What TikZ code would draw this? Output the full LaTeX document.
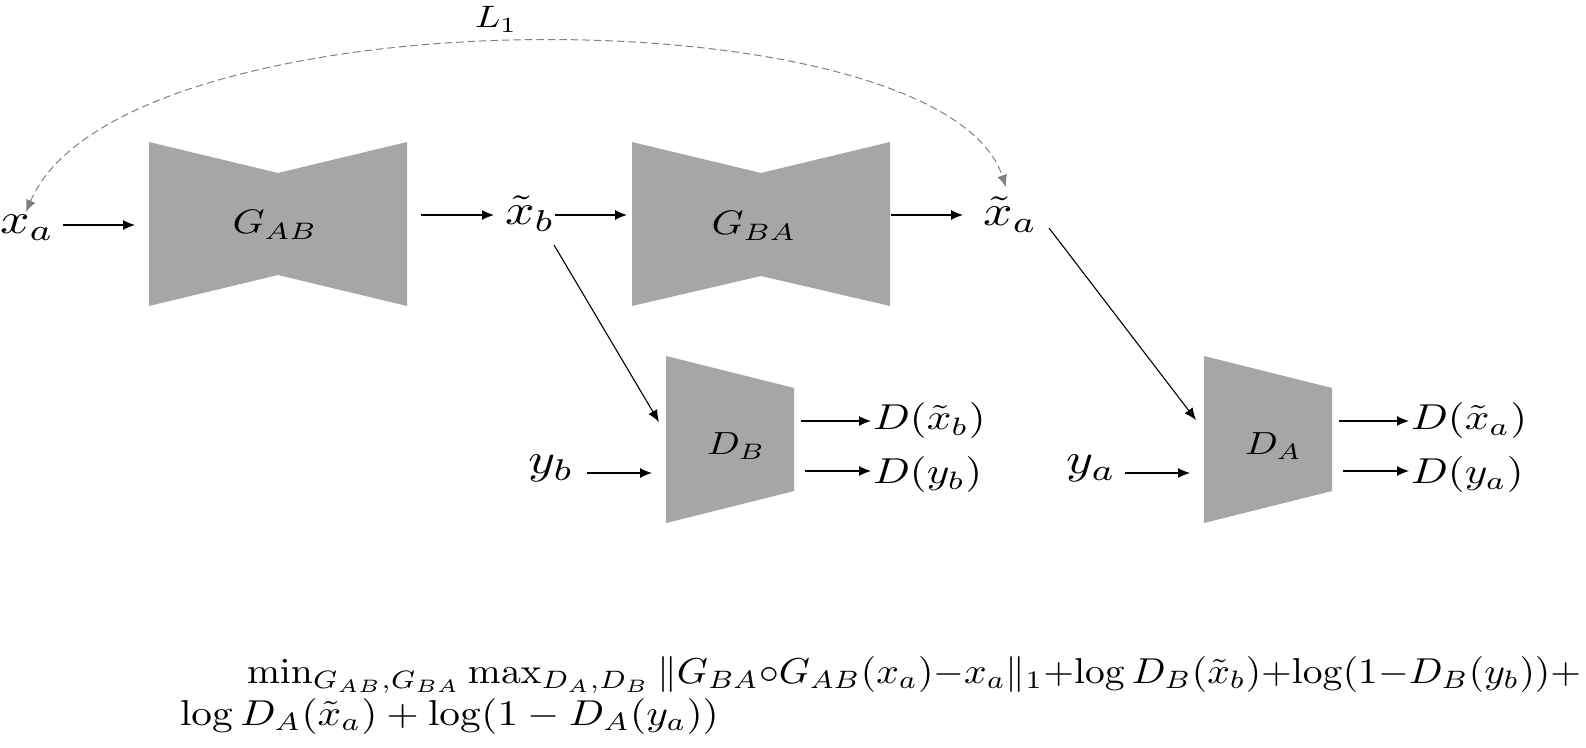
\documentclass[tikz,border=0pt]{standalone}
\usepackage{graphicx}
\usetikzlibrary{arrows.meta}
\definecolor{boxgray}{RGB}{166,166,166}
\definecolor{arcgray}{RGB}{128,128,128}
% text is set at 10pt and scaled: \scx{horizontal}{vertical}{text}
\newcommand{\scx}[3]{\scalebox{#1}[#2]{#3}}
\begin{document}
\begin{tikzpicture}[x=0.5pt,y=-0.5pt,
  txt/.style={inner sep=0pt, outer sep=0pt},
  conn/.style={line width=0.55pt, -{Latex[length=6pt,width=5pt]}},
  cyc/.style={arcgray, line width=0.5pt, dash pattern=on 3.75pt off 2pt,
    {Latex[length=6pt,width=5pt]}-{Latex[length=6pt,width=5pt]}},
  block/.style={fill=boxgray}]
\useasboundingbox (0,0) rectangle (1586,748);
\newcommand{\var}[1]{\scx{2.58}{2.15}{$#1$}}
\newcommand{\blab}[1]{\scx{2.04}{1.7}{$#1$}}
\newcommand{\dlab}[1]{\scx{1.92}{1.6}{$#1$}}
\newcommand{\olab}[1]{\scx{2.16}{1.8}{$#1$}}
\newcommand{\llab}[1]{\scx{1.86}{1.55}{$#1$}}

% blocks
\fill[block] (149,142) -- (278,173) -- (407,142) -- (407,306) -- (278,275) -- (149,306) -- cycle;
\fill[block] (632,142) -- (761,173) -- (890,142) -- (890,306) -- (761,276) -- (632,306) -- cycle;
\fill[block] (666,356) -- (794,388) -- (794,491) -- (666,523) -- cycle;
\fill[block] (1204,356) -- (1332,388) -- (1332,491) -- (1204,523) -- cycle;

% labels
\node[txt, anchor=base] (gab) at (275,234) {\blab{G_{AB}}};
\node[txt, anchor=base] (gba) at (754,235) {\blab{G_{BA}}};
\node[txt, anchor=base west] (db) at (707,455) {\dlab{D_B}};
\node[txt, anchor=base west] (da) at (1245,455) {\dlab{D_A}};

\node[txt, anchor=base west] (xa) at (0,234) {\var{x_a}};
\node[txt, anchor=base west] (xbt) at (505,225) {\var{\tilde{x}_b}};
\node[txt, anchor=base west] (xat) at (983,226) {\var{\tilde{x}_a}};
\node[txt, anchor=base west] (yb) at (528,474) {\var{y_b}};
\node[txt, anchor=base west] (ya) at (1066,474) {\var{y_a}};

\node[txt, anchor=base west] (dxb) at (873,430) {\olab{D(\tilde{x}_b)}};
\node[txt, anchor=base west] (dyb) at (873,484) {\olab{D(y_b)}};
\node[txt, anchor=base west] (dxa) at (1411,430) {\olab{D(\tilde{x}_a)}};
\node[txt, anchor=base west] (dya) at (1411,484) {\olab{D(y_a)}};

\node[txt, anchor=base west] (l1) at (475,28) {\llab{L_1}};

% connector end points
\coordinate (a1s) at (63,225);   \coordinate (a1e) at (135,225);
\coordinate (a2s) at (421,215);  \coordinate (a2e) at (494,215);
\coordinate (a3s) at (555,215);  \coordinate (a3e) at (627,215);
\coordinate (a4s) at (891,215);  \coordinate (a4e) at (963,215);
\coordinate (a5s) at (554,245);  \coordinate (a5e) at (659,422);
\coordinate (a6s) at (1049,228); \coordinate (a6e) at (1196,420);
\coordinate (a7s) at (587,473);  \coordinate (a7e) at (652,473);
\coordinate (a8s) at (1125,473); \coordinate (a8e) at (1190,473);
\coordinate (o1s) at (801,421);  \coordinate (o1e) at (871,421);
\coordinate (o2s) at (805,471);  \coordinate (o2e) at (871,471);
\coordinate (o3s) at (1339,421); \coordinate (o3e) at (1409,421);
\coordinate (o4s) at (1343,471); \coordinate (o4e) at (1409,471);
\coordinate (c1) at (26,212);    \coordinate (c2) at (1006,187);

\draw[conn] (a1s) -- (a1e);
\draw[conn] (a2s) -- (a2e);
\draw[conn] (a3s) -- (a3e);
\draw[conn] (a4s) -- (a4e);
\draw[conn] (a5s) -- (a5e);
\draw[conn] (a6s) -- (a6e);
\draw[conn] (a7s) -- (a7e);
\draw[conn] (a8s) -- (a8e);
\draw[conn] (o1s) -- (o1e);
\draw[conn] (o2s) -- (o2e);
\draw[conn] (o3s) -- (o3e);
\draw[conn] (o4s) -- (o4e);

\draw[cyc] (c1) .. controls (120,-10) and (940,-10) .. (c2);

% objective
\node[txt, anchor=base west] (f1) at (247,683)
  {\resizebox{667pt}{1.8\height}{\medmuskip=0mu $\min_{G_{AB},G_{BA}}\max_{D_A,D_B}\|G_{BA}\circ G_{AB}(x_a)-x_a\|_1+\log D_B(\tilde{x}_b)+\log(1-D_B(y_b))+$}};
\node[txt, anchor=base west] (f2) at (180,725)
  {\scx{2.07}{1.8}{$\log D_A(\tilde{x}_a)+\log(1-D_A(y_a))$}};
\end{tikzpicture}
\end{document}
